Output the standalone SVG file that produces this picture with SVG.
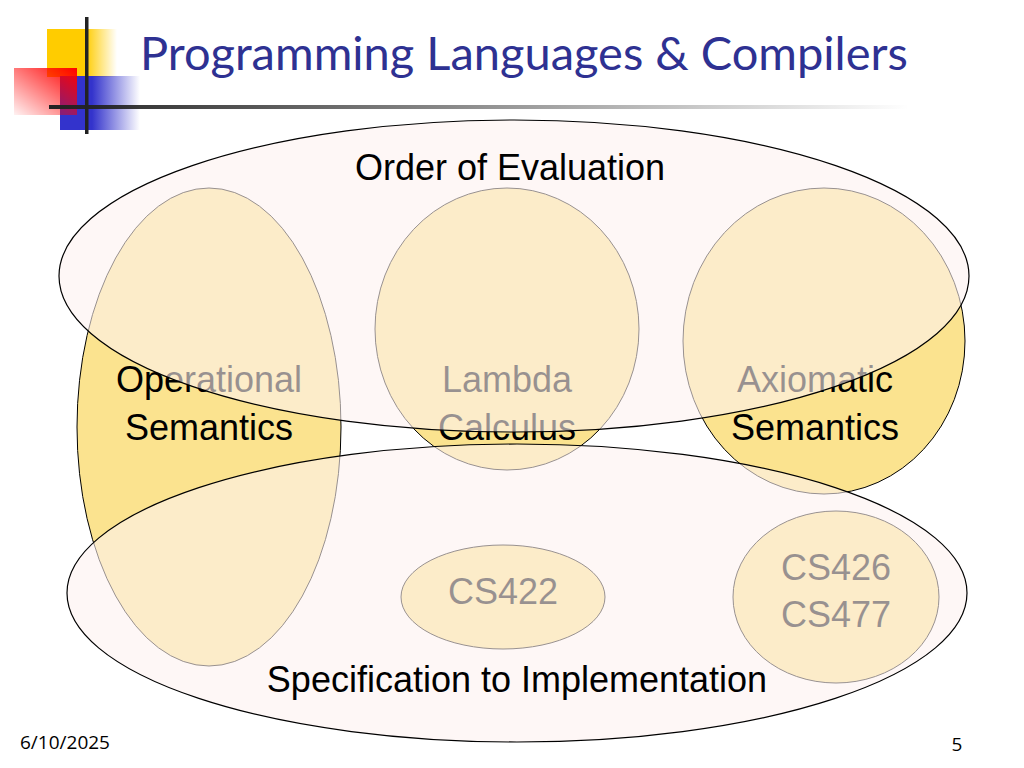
<svg xmlns="http://www.w3.org/2000/svg" width="1024" height="768" viewBox="0 0 1024 768">
<defs>
<linearGradient id="gy" x1="0" x2="1"><stop offset="0.55" stop-color="#ffcc00"/><stop offset="1" stop-color="#ffcc00" stop-opacity="0"/></linearGradient>
<linearGradient id="gb" x1="0" x2="1"><stop offset="0.4" stop-color="#3333cc"/><stop offset="1" stop-color="#3333cc" stop-opacity="0"/></linearGradient>
<linearGradient id="gr" x1="1" y1="0" x2="0" y2="1"><stop offset="0" stop-color="#ff0000"/><stop offset="1" stop-color="#ff0000" stop-opacity="0.05"/></linearGradient>
<linearGradient id="gl" x1="0" x2="1"><stop offset="0" stop-color="#222"/><stop offset="1" stop-color="#222" stop-opacity="0"/></linearGradient>
<style>
.y{fill:#fbe38f;stroke:#000;stroke-width:1}
.ov{fill:#fdf2f0;fill-opacity:0.6;stroke:#000;stroke-width:1.2}
.t{font-family:"Liberation Sans",Arial,sans-serif;font-size:36px;text-anchor:middle;fill:#000}
</style>
</defs>
<rect width="1024" height="768" fill="#fff"/>
<g id="logo">
<rect x="47" y="29" width="70" height="48" fill="url(#gy)"/>
<rect x="60" y="76" width="80" height="54" fill="url(#gb)"/>
<rect x="14" y="68" width="63" height="47" fill="url(#gr)"/>
<rect x="49" y="105" width="860" height="4" fill="url(#gl)"/>
<rect x="85" y="17" width="3.5" height="117" fill="#222"/>
</g>
<text x="140" y="70" font-family="Lato,'Open Sans',sans-serif" font-size="47" fill="#2e3192">Programming Languages &amp; Compilers</text>
<g id="operational"><ellipse class="y" cx="209" cy="427" rx="132" ry="239"/><text class="t" x="209" y="392">Operational</text><text class="t" x="209" y="440">Semantics</text></g>
<g id="lambda"><ellipse class="y" cx="507" cy="329" rx="132" ry="141"/><text class="t" x="507" y="392">Lambda</text><text class="t" x="507" y="440">Calculus</text></g>
<g id="axiomatic"><ellipse class="y" cx="824" cy="341" rx="141" ry="153"/><text class="t" x="815" y="392">Axiomatic</text><text class="t" x="815" y="440">Semantics</text></g>
<g id="cs422"><ellipse class="y" cx="503" cy="597" rx="102" ry="52"/><text class="t" x="503" y="604">CS422</text></g>
<g id="cs426"><ellipse class="y" cx="836" cy="597" rx="103" ry="86"/><text class="t" x="836" y="580">CS426</text><text class="t" x="836" y="627">CS477</text></g>
<g id="order"><ellipse class="ov" cx="514" cy="276" rx="455" ry="156"/><text class="t" x="510" y="180">Order of Evaluation</text></g>
<g id="spec"><ellipse class="ov" cx="517" cy="593" rx="450" ry="149"/><text class="t" x="517" y="692">Specification to Implementation</text></g>
<text x="20" y="749" font-family="'Open Sans',sans-serif" font-size="19" fill="#000">6/10/2025</text>
<text x="957" y="751" font-family="'Open Sans',sans-serif" font-size="19" fill="#000" text-anchor="middle">5</text>
</svg>
